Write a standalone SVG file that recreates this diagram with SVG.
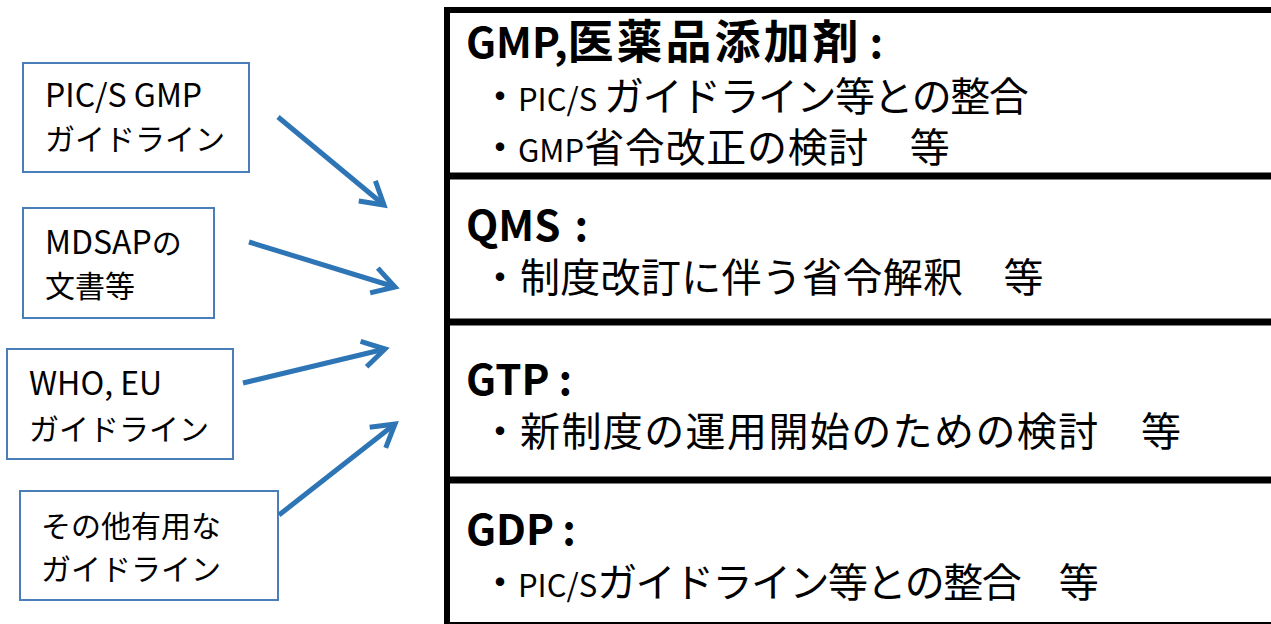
<svg xmlns="http://www.w3.org/2000/svg" width="1271" height="624" viewBox="0 0 1271 624">
<defs>
<style>
.src{fill:#ffffff;stroke:#4a7ebb;stroke-width:2}
.srct{font-family:"Noto Sans CJK JP","Noto Sans",sans-serif;font-size:30px;fill:#000}
.srct .la{font-size:32px}
.sec{fill:#ffffff;stroke:#000;stroke-width:6}
.div{stroke:#000;stroke-width:7}
.head{font-family:"Noto Sans CJK JP","Noto Sans",sans-serif;font-size:42px;font-weight:bold;fill:#000}
.head .jp{font-size:46px;letter-spacing:3px}
.body{font-family:"Noto Sans CJK JP","Noto Sans",sans-serif;font-size:40px;fill:#000}
.body .la{font-size:31px}
.arr{stroke:#2e75b6;stroke-width:5;fill:none;marker-end:url(#ah)}
</style>
<marker id="ah" markerUnits="userSpaceOnUse" markerWidth="34" markerHeight="34" viewBox="0 0 34 34" refX="26" refY="17" orient="auto">
<path d="M4 4 L26 17 L4 30" fill="none" stroke="#2e75b6" stroke-width="5" stroke-linejoin="miter"/>
</marker>
</defs>
<g id="sec-gmp">
<rect class="sec" x="447" y="10" width="840" height="166"/>
<text class="head" x="466" y="58">GMP,<tspan class="jp">医薬品添加剤</tspan><tspan dx="8">:</tspan></text>
<text class="body" y="111"><tspan x="480">・</tspan><tspan class="la" x="518">PIC/S </tspan><tspan letter-spacing="-1.5px">ガイドライン等との整合</tspan></text>
<text class="body" y="162"><tspan x="480">・</tspan><tspan class="la" x="518" font-size="38px">GMP</tspan><tspan letter-spacing="0.7px">省令改正の検討　等</tspan></text>
</g>
<g id="sec-qms">
<rect class="sec" x="447" y="176" width="840" height="146"/>
<text class="head" x="466" y="241">QMS<tspan dx="14">:</tspan></text>
<text class="body" y="292"><tspan x="480">・</tspan><tspan x="520" letter-spacing="0.3px">制度改訂に伴う省令解釈　等</tspan></text>
</g>
<g id="sec-gtp">
<rect class="sec" x="447" y="322" width="840" height="158"/>
<text class="head" x="466" y="395">GTP<tspan dx="9">:</tspan></text>
<text class="body" y="446"><tspan x="480">・</tspan><tspan x="520" letter-spacing="1.4px">新制度の運用開始のための検討　等</tspan></text>
</g>
<g id="sec-gdp">
<rect class="sec" x="447" y="480" width="840" height="145"/>
<text class="head" x="466" y="545">GDP<tspan dx="8">:</tspan></text>
<text class="body" y="597"><tspan x="480">・</tspan><tspan class="la" x="518">PIC/S</tspan><tspan letter-spacing="-1.5px">ガイドライン等との整合　等</tspan></text>
</g>
<line class="div" x1="450" y1="176" x2="1271" y2="176"/>
<line class="div" x1="450" y1="322" x2="1271" y2="322"/>
<line class="div" x1="450" y1="480" x2="1271" y2="480"/>
<g id="src-pics">
<rect class="src" x="23" y="63" width="226" height="109"/>
<text class="srct" x="45" y="107"><tspan class="la">PIC/S GMP</tspan></text>
<text class="srct" x="45" y="150">ガイドライン</text>
</g>
<g id="src-mdsap">
<rect class="src" x="23" y="208" width="191" height="110"/>
<text class="srct" x="45" y="254"><tspan class="la">MDSAP</tspan>の</text>
<text class="srct" x="45" y="297">文書等</text>
</g>
<g id="src-who">
<rect class="src" x="7" y="349" width="226" height="110"/>
<text class="srct" x="29" y="395"><tspan class="la">WHO, EU</tspan></text>
<text class="srct" x="29" y="440">ガイドライン</text>
</g>
<g id="src-other">
<rect class="src" x="20" y="491" width="258" height="109"/>
<text class="srct" x="41" y="537">その他有用な</text>
<text class="srct" x="41" y="580">ガイドライン</text>
</g>
<g id="connectors">
<line class="arr" x1="278" y1="117" x2="384" y2="205"/>
<line class="arr" x1="249" y1="242" x2="395" y2="287"/>
<line class="arr" x1="243" y1="383" x2="385" y2="349"/>
<line class="arr" x1="279" y1="515" x2="395" y2="424"/>
</g>
</svg>
